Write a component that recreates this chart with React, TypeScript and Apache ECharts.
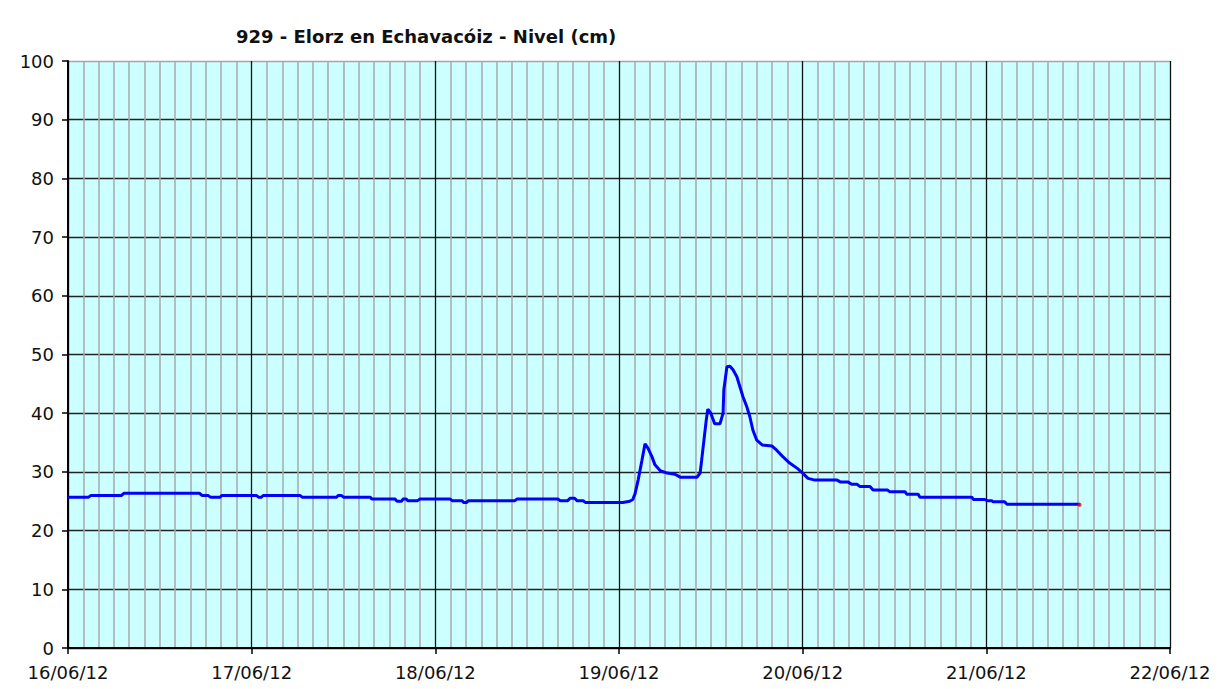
import React, { useEffect, useRef } from "react";
import * as echarts from "echarts";

const TITLE = "929 - Elorz en Echavacóiz - Nivel (cm)";
const DAY_LABELS = ["16/06/12", "17/06/12", "18/06/12", "19/06/12", "20/06/12", "21/06/12", "22/06/12"];
const Y_TICKS = [0, 10, 20, 30, 40, 50, 60, 70, 80, 90, 100];

// hours since 16/06/12 00:00
const hours = [
  0, 2.7, 3.0, 7.0, 7.3, 17.2, 17.5, 18.3, 18.6, 19.9, 20.1, 24.6, 24.9, 25.3, 25.5, 30.3, 30.6, 35.1, 35.3, 35.7,
  36.0, 39.5, 39.7, 42.7, 43.0, 43.6, 43.8, 44.2, 44.4, 45.7, 46.0, 49.9, 50.2, 51.5, 51.7, 52.1, 52.3, 58.4, 58.7,
  64.0, 64.3, 65.3, 65.6, 66.2, 66.5, 67.3, 67.6, 72.5, 73.4, 73.8, 74.1, 74.5, 75.0, 75.4, 75.8, 76.3, 76.7, 77.4,
  78.3, 79.3, 80.0, 82.2, 82.6, 82.8, 83.1, 83.4, 83.6, 84.0, 84.5, 85.2, 85.6, 85.7, 86.1, 86.5, 86.9, 87.4, 87.8,
  88.2, 88.7, 89.1, 89.5, 90.0, 90.7, 92.0, 92.6, 93.4, 94.3, 95.3, 96.0, 96.7, 97.6, 100.5, 100.9, 101.9, 102.4,
  103.1, 103.5, 104.8, 105.2, 107.1, 107.4, 109.4, 109.6, 111.1, 111.3, 118.1, 118.3, 119.8, 120.1, 120.7, 120.9,
  122.4, 122.7, 132.2,
];
const levels = [
  25.7, 25.7, 26.0, 26.0, 26.35, 26.35, 26.0, 26.0, 25.7, 25.7, 26.0, 26.0, 25.7, 25.7, 26.0, 26.0, 25.7, 25.7, 26.0,
  26.0, 25.7, 25.7, 25.4, 25.4, 25.0, 25.0, 25.4, 25.4, 25.1, 25.1, 25.4, 25.4, 25.1, 25.1, 24.8, 24.8, 25.1, 25.1,
  25.4, 25.4, 25.1, 25.1, 25.5, 25.5, 25.1, 25.1, 24.8, 24.8, 25.0, 25.3, 26.3, 28.6, 32.0, 34.8, 34.0, 32.6, 31.2,
  30.2, 29.8, 29.6, 29.1, 29.1, 29.8, 32.0, 35.4, 38.8, 40.7, 40.0, 38.2, 38.2, 40.0, 44.0, 47.9, 48.0, 47.4, 46.2,
  44.5, 42.8, 41.1, 39.4, 37.1, 35.4, 34.6, 34.4, 33.7, 32.6, 31.5, 30.6, 29.8, 28.9, 28.6, 28.6, 28.3, 28.3, 27.9,
  27.9, 27.5, 27.5, 26.9, 26.9, 26.6, 26.6, 26.2, 26.2, 25.7, 25.7, 25.3, 25.3, 25.1, 25.1, 24.9, 24.9, 24.5, 24.5,
];
const lastHour = [132.2];
const lastLevel = [24.4];

const FONT = "DejaVu Sans";

export default function App() {
  const ref = useRef<HTMLDivElement>(null);
  useEffect(() => {
    document.body.style.margin = "0";
    const chart = echarts.init(ref.current!, null, { renderer: "svg" });
    const yColors = Y_TICKS.map((v) => (v === 100 ? "#a6a6a6" : "#222222"));
    chart.setOption({
      animation: false,
      backgroundColor: "#ffffff",
      title: {
        text: TITLE,
        left: 231,
        top: 22,
        textStyle: { fontFamily: FONT, fontSize: 18, fontWeight: "bold", color: "#111" },
      },
      grid: {
        left: 68,
        top: 61,
        right: 58,
        bottom: 41,
        show: true,
        backgroundColor: "#ccffff",
        borderWidth: 0,
      },
      xAxis: {
        type: "value",
        min: 0,
        max: 144,
        interval: 24,
        axisLine: { show: true, onZero: false, lineStyle: { color: "#000", width: 2 } },
        axisTick: { show: true, length: 6, lineStyle: { color: "#000", width: 1.5 } },
        minorTick: { show: true, splitNumber: 12, length: 0, lineStyle: { color: "transparent" } },
        minorSplitLine: { show: true, lineStyle: { color: "#a8a8a8", width: 1.5 } },
        splitLine: { show: true, lineStyle: { color: "#111", width: 1.3 } },
        axisLabel: {
          margin: 15,
          fontFamily: FONT,
          fontSize: 18,
          color: "#111",
          formatter: (v: number) => DAY_LABELS[Math.round(v / 24)] ?? "",
        },
      },
      yAxis: {
        type: "value",
        min: 0,
        max: 100,
        interval: 10,
        axisLine: { show: true, lineStyle: { color: "#000", width: 2 } },
        axisTick: { show: true, length: 6, lineStyle: { color: "#000", width: 1.5 } },
        splitLine: { show: true, lineStyle: { color: yColors, width: 1.3 } },
        axisLabel: { margin: 14, fontFamily: FONT, fontSize: 18, color: "#111" },
      },
      series: [
        {
          type: "line",
          data: hours.map((h, i) => [h, levels[i]]),
          showSymbol: false,
          symbol: "none",
          lineStyle: { color: "#0000ff", width: 3 },
          z: 3,
        },
        {
          type: "scatter",
          data: lastHour.map((h, i) => [h, lastLevel[i]]),
          symbol: "circle",
          symbolSize: 4,
          itemStyle: { color: "#ff0000" },
          z: 4,
        },
      ],
    });
    return () => chart.dispose();
  }, []);
  return <div ref={ref} style={{ width: 1228, height: 689 }} />;
}
